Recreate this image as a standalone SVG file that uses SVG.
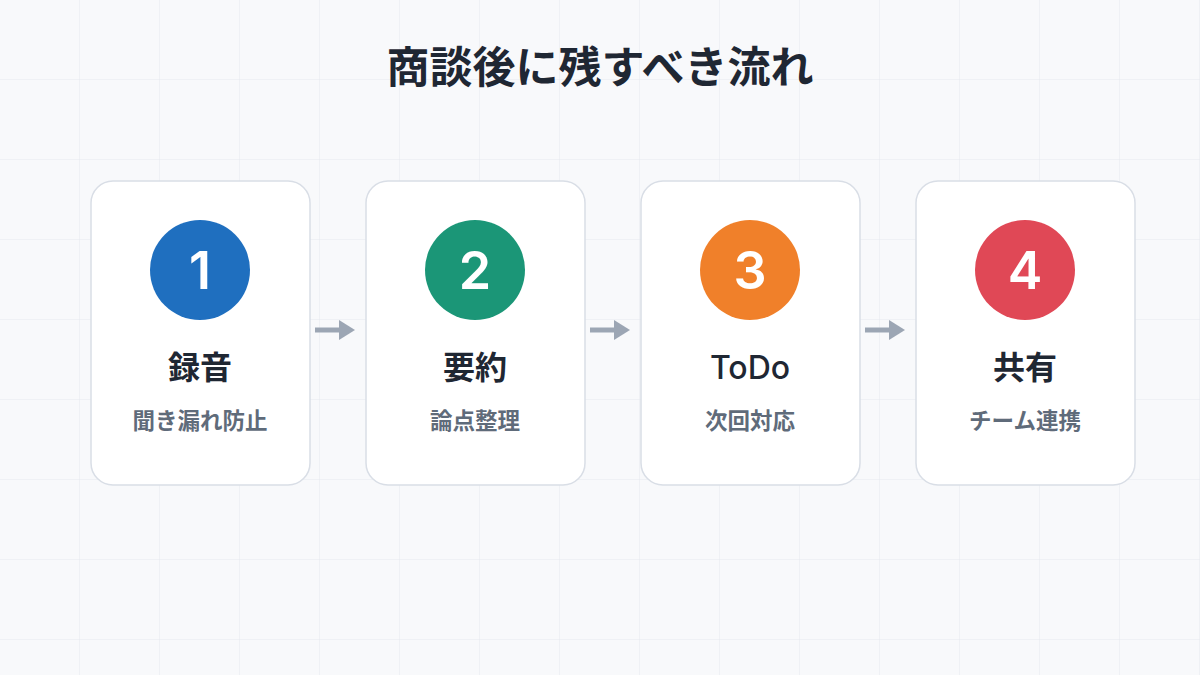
<svg xmlns="http://www.w3.org/2000/svg" width="1200" height="675" viewBox="0 0 1200 675">
<defs>
<pattern id="grid" width="80" height="80" patternUnits="userSpaceOnUse">
<path d="M80 0V80M0 80H80" fill="none" stroke="#e6e9ef" stroke-width="1"/>
</pattern>
<marker id="ah" viewBox="0 0 16 20" refX="1" refY="10" markerWidth="3.2" markerHeight="4" orient="auto" markerUnits="strokeWidth">
<path d="M0 0L16 10L0 20Z" fill="#9ca6b4"/>
</marker>
</defs>
<style>
.card{fill:#ffffff;stroke:#d9dee6;stroke-width:1.5}
.num{font-family:Inter,"Noto Sans CJK JP",sans-serif;font-size:52px;font-weight:600;fill:#ffffff;text-anchor:middle}
.lbl{font-family:Inter,"Noto Sans CJK JP",sans-serif;font-size:32px;font-weight:600;fill:#1f2733;text-anchor:middle}
.lat{font-weight:500}
.sub{font-family:"Noto Sans CJK JP","Noto Sans",sans-serif;font-size:22.5px;font-weight:600;fill:#5f6b7a;text-anchor:middle}
.title{font-family:"Noto Sans CJK JP","Noto Sans",sans-serif;font-size:43px;font-weight:700;fill:#1f2733;text-anchor:middle}
.conn{stroke:#9ca6b4;stroke-width:5;fill:none;marker-end:url(#ah)}
</style>
<rect width="1200" height="675" fill="#f8f9fb"/>
<rect width="1200" height="675" fill="url(#grid)"/>
<text class="title" x="600" y="83">商談後に残すべき流れ</text>
<g id="connectors">
<line class="conn" x1="315" y1="330" x2="340" y2="330"/>
<line class="conn" x1="590" y1="330" x2="615" y2="330"/>
<line class="conn" x1="865" y1="330" x2="890" y2="330"/>
</g>
<g id="node1">
<rect class="card" x="91" y="181" width="219" height="304" rx="22"/>
<circle cx="200" cy="270" r="50" fill="#1f6fbf"/>
<text class="num" x="200" y="289">1</text>
<text class="lbl" x="200" y="379">録音</text>
<text class="sub" x="200" y="429">聞き漏れ防止</text>
</g>
<g id="node2">
<rect class="card" x="366" y="181" width="219" height="304" rx="22"/>
<circle cx="475" cy="270" r="50" fill="#1b9677"/>
<text class="num" x="475" y="289">2</text>
<text class="lbl" x="475" y="379">要約</text>
<text class="sub" x="475" y="429">論点整理</text>
</g>
<g id="node3">
<rect class="card" x="641" y="181" width="219" height="304" rx="22"/>
<circle cx="750" cy="270" r="50" fill="#f0802a"/>
<text class="num" x="750" y="289">3</text>
<text class="lbl lat" x="750" y="379">ToDo</text>
<text class="sub" x="750" y="429">次回対応</text>
</g>
<g id="node4">
<rect class="card" x="916" y="181" width="219" height="304" rx="22"/>
<circle cx="1025" cy="270" r="50" fill="#e04856"/>
<text class="num" x="1025" y="289">4</text>
<text class="lbl" x="1025" y="379">共有</text>
<text class="sub" x="1025" y="429">チーム連携</text>
</g>
</svg>
